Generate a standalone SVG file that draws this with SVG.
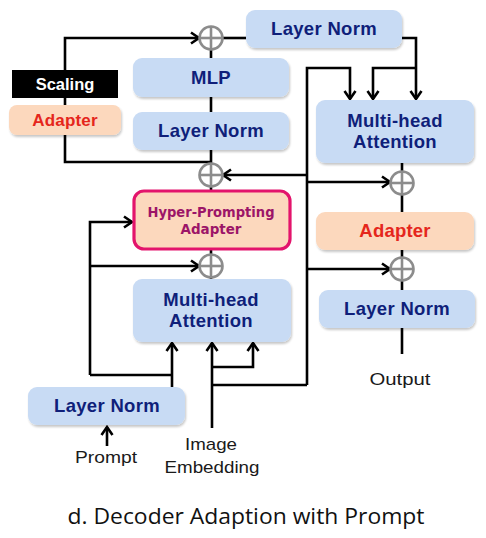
<svg xmlns="http://www.w3.org/2000/svg" xmlns:xlink="http://www.w3.org/1999/xlink" width="486" height="538" viewBox="0 0 486 538">
<style>
.bg{fill:#ffffff}
.blue{fill:#c8dbf4}
.peach{fill:#fcd8bd}
.lbl{font-family:"Liberation Sans",Arial,sans-serif;font-weight:bold;font-size:18.5px;letter-spacing:0.3px;fill:#0f1f7a;text-anchor:middle}
.red{font-family:"Liberation Sans",Arial,sans-serif;font-weight:bold;font-size:18.5px;letter-spacing:0.2px;fill:#e5261c;text-anchor:middle}
.wht{font-family:"Liberation Sans",Arial,sans-serif;font-weight:bold;font-size:16.5px;fill:#ffffff;text-anchor:middle}
.hpa{font-family:"DejaVu Sans",sans-serif;font-weight:bold;font-size:14.5px;fill:#9c1568;text-anchor:middle}
.plain{font-family:"Liberation Sans",Arial,sans-serif;font-size:17px;fill:#1a1a1a;text-anchor:middle}
.cap{font-family:"Open Sans","Liberation Sans",sans-serif;font-size:21px;fill:#111111;text-anchor:middle}
.wire{fill:none;stroke:#000;stroke-width:2.6}
.arr{marker-end:url(#ah)}
.pc{fill:#ffffff;stroke:#8c8c8c;stroke-width:2.6}
.pl{stroke:#8c8c8c;stroke-width:2.6}
</style>
<defs>
<marker id="ah" markerUnits="userSpaceOnUse" markerWidth="12" markerHeight="14" refX="9" refY="7" orient="auto">
<path d="M1,1.5 L9,7 L1,12.5" fill="none" stroke="#000" stroke-width="2.6"/>
</marker>
<filter id="sh" x="-10%" y="-10%" width="120%" height="130%">
<feDropShadow dx="1" dy="2" stdDeviation="1.3" flood-color="#000" flood-opacity="0.22"/>
</filter>
<g id="plus">
<circle class="pc" r="11.5"/>
<line class="pl" x1="-11.5" y1="0" x2="11.5" y2="0"/>
<line class="pl" x1="0" y1="-11.5" x2="0" y2="11.5"/>
</g>
</defs>
<rect class="bg" width="486" height="538"/>
<g id="connectors">
<path class="wire arr" d="M211,162 L65,162 L65,38 L199,38"/>
<path class="wire" d="M211,58 L211,50"/>
<path class="wire" d="M223,38 L246,38"/>
<path class="wire" d="M211,97 L211,112"/>
<path class="wire" d="M211,150 L211,164"/>
<path class="wire" d="M211,186 L211,190"/>
<path class="wire" d="M211,250 L211,255"/>
<path class="wire" d="M211,277 L211,279"/>
<path class="wire arr" d="M402,38 L416,38 L416,99"/>
<path class="wire arr" d="M416,68 L373,68 L373,99"/>
<path class="wire arr" d="M307,385 L307,68 L350,68 L350,99"/>
<path class="wire arr" d="M307,175 L223,175"/>
<path class="wire arr" d="M307,182 L390,182"/>
<path class="wire arr" d="M307,269 L390,269"/>
<path class="wire" d="M402,163 L402,171"/>
<path class="wire" d="M402,195 L402,212"/>
<path class="wire" d="M402,250 L402,257"/>
<path class="wire" d="M402,281 L402,290"/>
<path class="wire" d="M402,328 L402,354"/>
<path class="wire arr" d="M90,375 L90,222 L132,222"/>
<path class="wire arr" d="M90,266 L199,266"/>
<path class="wire arr" d="M172,387 L172,343"/>
<path class="wire" d="M172,375 L90,375"/>
<path class="wire arr" d="M212,428 L212,343"/>
<path class="wire arr" d="M212,367 L253,367 L253,343"/>
<path class="wire" d="M212,385 L307,385"/>
<path class="wire arr" d="M107,446 L107,427"/>
</g>
<g id="plus-top"><use xlink:href="#plus" x="211" y="38"/></g>
<g id="plus-mid"><use xlink:href="#plus" x="211" y="175"/></g>
<g id="plus-low"><use xlink:href="#plus" x="211" y="266"/></g>
<g id="plus-r1"><use xlink:href="#plus" x="402" y="183"/></g>
<g id="plus-r2"><use xlink:href="#plus" x="402" y="269"/></g>
<g id="ln-top"><rect class="blue" filter="url(#sh)" x="246" y="10" width="156" height="38" rx="9"/><text class="lbl" x="324" y="35">Layer Norm</text></g>
<g id="mlp"><rect class="blue" filter="url(#sh)" x="133" y="58" width="156" height="39" rx="9"/><text class="lbl" x="211" y="84">MLP</text></g>
<g id="ln-left"><rect class="blue" filter="url(#sh)" x="133" y="112" width="156" height="38" rx="9"/><text class="lbl" x="211" y="137">Layer Norm</text></g>
<g id="scaling"><rect fill="#000" x="12" y="70" width="106" height="28"/><text class="wht" x="65" y="90">Scaling</text></g>
<g id="adapter-left"><rect class="peach" filter="url(#sh)" x="9" y="105" width="112" height="30" rx="8"/><text class="red" x="65" y="126" style="font-size:17px">Adapter</text></g>
<g id="mha-right"><rect class="blue" filter="url(#sh)" x="316" y="100" width="158" height="63" rx="9"/><text class="lbl" x="395" y="127">Multi-head</text><text class="lbl" x="395" y="148">Attention</text></g>
<g id="adapter-right"><rect class="peach" filter="url(#sh)" x="316" y="212" width="158" height="38" rx="9"/><text class="red" x="395" y="237">Adapter</text></g>
<g id="ln-right"><rect class="blue" filter="url(#sh)" x="319" y="290" width="156" height="38" rx="9"/><text class="lbl" x="397" y="315">Layer Norm</text></g>
<g id="hpa"><rect class="peach" x="134" y="191" width="156" height="58" rx="10" stroke="#e3146c" stroke-width="3.2"/><text class="hpa" x="211" y="217" textLength="127" lengthAdjust="spacingAndGlyphs">Hyper-Prompting</text><text class="hpa" x="211" y="234" textLength="61" lengthAdjust="spacingAndGlyphs">Adapter</text></g>
<g id="mha-left"><rect class="blue" filter="url(#sh)" x="133" y="279" width="158" height="63" rx="9"/><text class="lbl" x="211" y="306">Multi-head</text><text class="lbl" x="211" y="327">Attention</text></g>
<g id="ln-bottom"><rect class="blue" filter="url(#sh)" x="28" y="387" width="157" height="38" rx="9"/><text class="lbl" x="107" y="412">Layer Norm</text></g>
<g id="output"><text class="plain" x="400" y="385" textLength="61" lengthAdjust="spacingAndGlyphs">Output</text></g>
<g id="prompt"><text class="plain" x="106" y="463" textLength="62" lengthAdjust="spacingAndGlyphs">Prompt</text></g>
<g id="image-embedding"><text class="plain" x="211" y="450" textLength="52" lengthAdjust="spacingAndGlyphs">Image</text><text class="plain" x="212" y="473" textLength="95" lengthAdjust="spacingAndGlyphs">Embedding</text></g>
<text class="cap" x="246" y="524" textLength="357" lengthAdjust="spacingAndGlyphs">d. Decoder Adaption with Prompt</text>
</svg>
